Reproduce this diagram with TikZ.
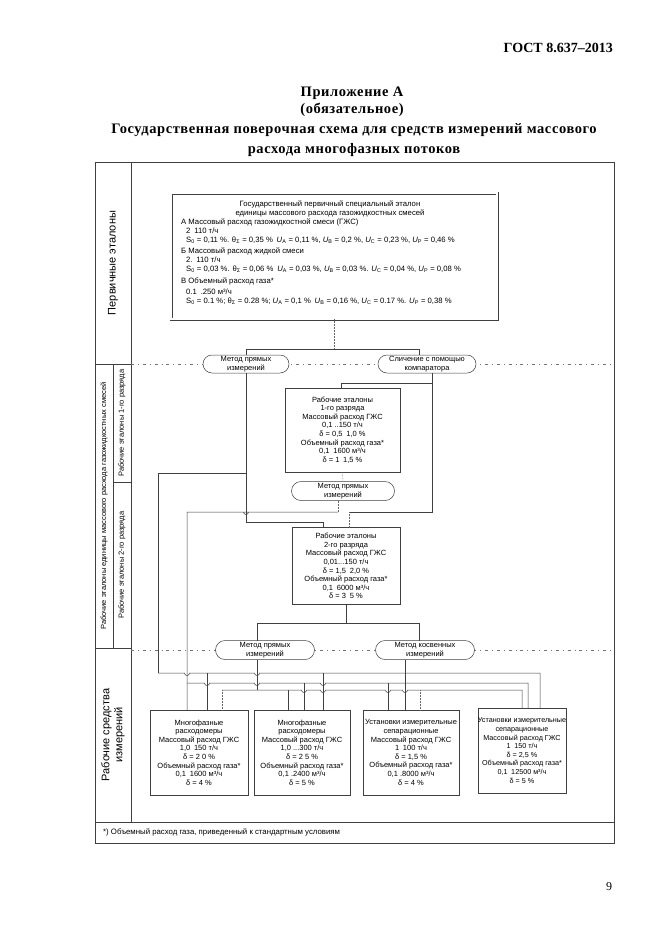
\documentclass[tikz,border=0pt]{standalone}
\usepackage{fontspec}
\setmainfont{Liberation Serif}
\newfontfamily\dsans{Liberation Sans}
\usetikzlibrary{shapes.misc}
\begin{document}
\begin{tikzpicture}[x=1pt,y=-1pt,
  txt/.style={font=\dsans\fontsize{7.5}{8.6}\selectfont, align=center, inner sep=0pt},
  frameline/.style={draw=black!75, line width=0.6pt},
  stdbox/.style={draw=black!75, line width=0.5pt, inner sep=0pt, txt},
  meth/.style={rounded rectangle, draw=black!75, line width=0.5pt, inner sep=0pt, fill=white, txt},
  conn/.style={draw=black!75, line width=0.5pt},
  dotc/.style={draw=black!60, line width=0.5pt, densely dotted},
  sepl/.style={draw=black!55, line width=0.5pt, dash pattern=on 3pt off 4pt on 0.8pt off 4pt},
  hopx/.style args={#1/#2}{insert path={-- ({#1-2.5},#2) arc[start angle=180,end angle=0,radius=2.5]}},
  collabel/.style={rotate=90, font=\dsans\fontsize{7.5}{9}\selectfont, inner sep=0pt},
  biglabel/.style={rotate=90, font=\dsans\fontsize{11}{13}\selectfont, inner sep=0pt, align=center},
  headt/.style={font=\bfseries\fontsize{14.5}{17}\selectfont\addfontfeature{LetterSpace=4}, inner sep=0pt},
]
\useasboundingbox (0,0) rectangle (661,935);
\fill[white] (0,0) rectangle (661,935);

% ---------- header ----------
\node[anchor=east, font=\bfseries\fontsize{14}{16}\selectfont, inner sep=0pt] (gost) at (613,48) {ГОСТ 8.637–2013};
\node[headt] (app) at (352,93) {Приложение А};
\node[headt] (oblig) at (352,110) {(обязательное)};
\node[headt] (title1) at (354,130) {Государственная поверочная схема для средств измерений массового};
\node[headt] (title2) at (354,150) {расхода многофазных потоков};
\node[font=\fontsize{12}{14}\selectfont, inner sep=0pt] (pnum) at (609,887) {9};

% ---------- frame ----------
\draw[frameline] (95,162) rectangle (614,843);
\draw[frameline] (95,822) -- (614,822);
\draw[frameline] (131,162) -- (131,822);
\draw[frameline] (95,364) -- (131,364);
\draw[frameline] (95,648) -- (131,648);
\draw[frameline] (113,364) -- (113,648);
\draw[frameline] (113,482) -- (131,482);
\draw[sepl] (131,364) -- (614,364);
\draw[sepl] (131,650) -- (614,650);

\node[biglabel] (lprim) at (113,263) {Первичные эталоны};
\node[collabel] (lwork) at (104,506) {Рабочие эталоны единицы массового расхода газожидкостных смесей};
\node[collabel] (lr1) at (122,423) {Рабочие эталоны 1-го разряда};
\node[collabel] (lr2) at (122,565) {Рабочие эталоны 2-го разряда};
\node[biglabel] (lsi) at (113,735) {Рабочие средства\\измерений};

\node[anchor=west, font=\dsans\fontsize{7.8}{9}\selectfont, inner sep=0pt] (foot) at (103,832) {*) Объемный расход газа, приведенный к стандартным условиям};

% ---------- primary standard ----------
\node[draw=black!75, line width=0.5pt, double=white, double distance=2pt, minimum width=326, minimum height=126, inner sep=0pt] (prim) at (334,256) {};
\node[txt, font=\dsans\fontsize{7.7}{8.8}\selectfont] (primt) at (330,209) {Государственный первичный специальный эталон\\единицы массового расхода газожидкостных смесей};
\node[txt, font=\dsans\fontsize{7.7}{9}\selectfont, align=left, anchor=north west] (primb) at (181,219) {%
А Массовый расход газожидкостной смеси (ГЖС)\\
\hspace*{5pt}2\enspace 110 т/ч\\
\hspace*{5pt}S\textsubscript{0} = 0,11 \%. θ\textsubscript{Σ} = 0,35 \%\enspace \textit{U}\textsubscript{A} = 0,11 \%, \textit{U}\textsubscript{B} = 0,2 \%, \textit{U}\textsubscript{C} = 0,23 \%, \textit{U}\textsubscript{P} = 0,46 \%\\[2pt]
Б Массовый расход жидкой смеси\\
\hspace*{5pt}2.\enspace 110 т/ч\\
\hspace*{5pt}S\textsubscript{0} = 0,03 \%. θ\textsubscript{Σ} = 0,06 \%\enspace \textit{U}\textsubscript{A} = 0,03 \%, \textit{U}\textsubscript{B} = 0,03 \%. \textit{U}\textsubscript{C} = 0,04 \%, \textit{U}\textsubscript{P} = 0,08 \%\\[3pt]
В Объемный расход газа*\\[2pt]
\hspace*{5pt}0.1\enspace .250 м³/ч\\
\hspace*{5pt}S\textsubscript{0} = 0.1 \%; θ\textsubscript{Σ} = 0.28 \%; \textit{U}\textsubscript{A} = 0,1 \%\enspace \textit{U}\textsubscript{B} = 0,16 \%, \textit{U}\textsubscript{C} = 0.17 \%. \textit{U}\textsubscript{P} = 0,38 \%};

% ---------- methods & standards ----------
\node[meth, minimum width=86, minimum height=18] (mA) at (246,364) {Метод прямых\\измерений};
\node[meth, minimum width=98, minimum height=18] (mB) at (427,364) {Сличение с помощью\\компаратора};
\node[stdbox, minimum width=115, minimum height=84] (r1) at (342.5,430) {Рабочие эталоны\\1-го разряда\\Массовый расход ГЖС\\0,1 ..150 т/ч\\δ = 0,5\enspace 1,0 \%\\Объемный расход газа*\\0,1\enspace 1600 м³/ч\\δ = 1\enspace 1,5 \%};
\node[meth, minimum width=103, minimum height=19] (mM) at (343,491) {Метод прямых\\измерений};
\node[stdbox, minimum width=108, minimum height=77] (r2) at (346,566) {Рабочие эталоны\\2-го разряда\\Массовый расход ГЖС\\0,01...150 т/ч\\δ = 1,5\enspace 2,0 \%\\Объемный расход газа*\\0,1\enspace 6000 м³/ч\\δ = 3\enspace 5 \%};
\node[meth, minimum width=99, minimum height=19] (mC) at (265,650) {Метод прямых\\измерений};
\node[meth, minimum width=99, minimum height=19] (mD) at (425,650) {Метод косвенных\\измерений};

% ---------- working instruments ----------
\node[stdbox, minimum width=98, minimum height=85] (b1) at (199,752.5) {Многофазные\\расходомеры\\Массовый расход ГЖС\\1,0\enspace 150 т/ч\\δ = 2 0 \%\\Объемный расход газа*\\0,1\enspace 1600 м³/ч\\δ = 4 \%};
\node[stdbox, minimum width=96, minimum height=85] (b2) at (302,752.5) {Многофазные\\расходомеры\\Массовый расход ГЖС\\1,0 ...300 т/ч\\δ = 2 5 \%\\Объемный расход газа*\\0,1 .2400 м³/ч\\δ = 5 \%};
\node[stdbox, minimum width=96, minimum height=85] (b3) at (411,752.5) {Установки измерительные\\сепарационные\\Массовый расход ГЖС\\1\enspace 100 т/ч\\δ = 1,5 \%\\Объемный расход газа*\\0,1 .8000 м³/ч\\δ = 4 \%};
\node[stdbox, minimum width=88, minimum height=85, font=\dsans\fontsize{7.2}{8.6}\selectfont] (b4) at (522,750.5) {Установки измерительные\\сепарационные\\Массовый расход ГЖС\\1\enspace 150 т/ч\\δ = 2,5 \%\\Объемный расход газа*\\0,1\enspace 12500 м³/ч\\δ = 5 \%};

% ---------- connectors: upper part ----------
\coordinate (jP) at (334,349);
\coordinate (jC) at (257,690);
\coordinate (jD) at (405,710);
\draw[dotc] (prim.south) -- (jP);
\draw[conn] (mA.north) -- (246,349) -- (419,349) -- (419,355);
\draw[conn] (mA.south) -- (246,522) -- (323,522) -- (323,528);
\draw[conn] (246,473) -- (158,473) -- (158,673);
\draw[conn] (432,373) -- (432,512) -- (349,512);
\draw[dotc] (349,512) -- (349,528);
\draw[conn] (432,383) -- (341,383) -- (341,388);
\draw[dotc] (r1.south) -- (mM.north);
\draw[dotc] (338,500.5) -- (338,512);
\draw[conn] (338,512) [hopx={246/512}] -- (187,512) -- (187,710);
\draw[conn] (r2.south) -- (346,623);
\draw[conn] (257,641) -- (257,623) -- (419,623) -- (419,641);

% ---------- buses ----------
\draw[conn] (158,673) [hopx={187/673}] [hopx={257/673}] -- (540,673) -- (540,708);
\draw[conn] (207,673) -- (207,710);
\draw[conn] (323,673) -- (323,710);
\draw[conn] (187,683) [hopx={207/683}] [hopx={257/683}] [hopx={323/683}] -- (528,683) -- (528,708);
\draw[conn] (304,683) -- (304,710);
\draw[conn] (388,683) -- (388,710);
\draw[conn] (222,690) -- (257,690) [hopx={304/690}] [hopx={323/690}] [hopx={388/690}] [hopx={405/690}] -- (522,690) -- (522,708);
\draw[conn] (jC |- mC.south) -- (jC);
\draw[dotc] (222,690) -- (222,710);
\draw[conn] (288,690) -- (288,710);
\draw[dotc] (420,690) -- (420,710);
\draw[conn] (jD |- mD.south) -- (jD);
\end{tikzpicture}
\end{document}
